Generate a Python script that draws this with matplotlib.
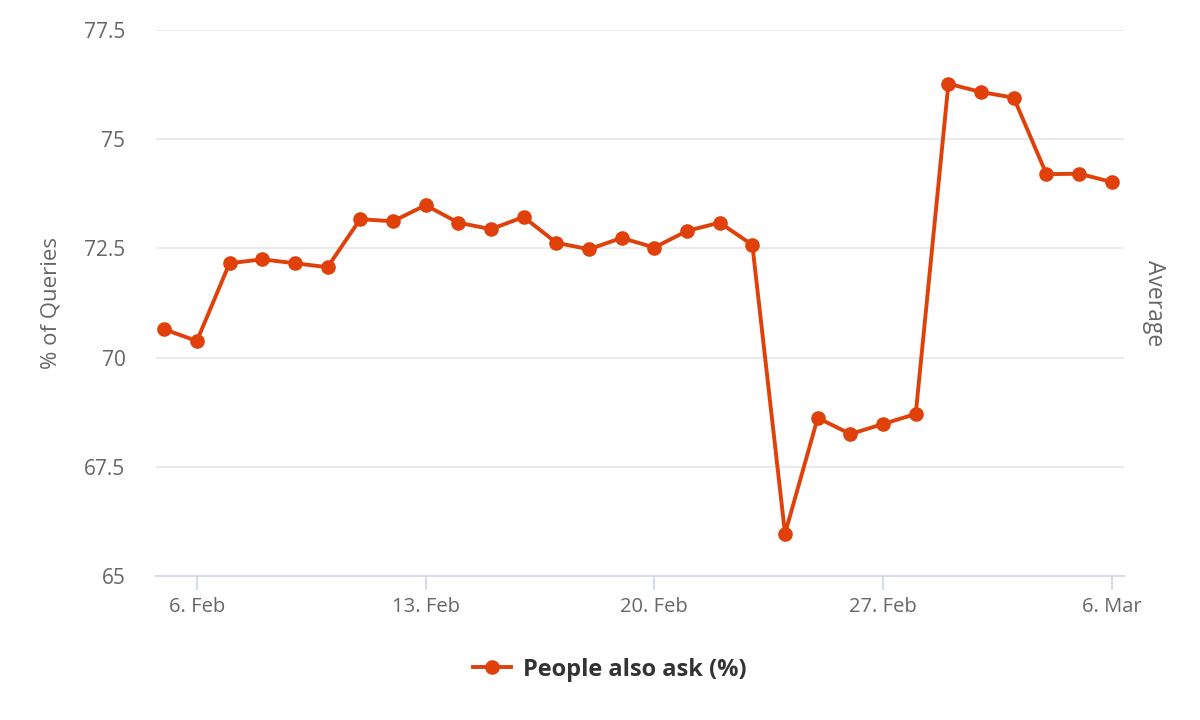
import pandas as pd
import matplotlib
matplotlib.use('Agg')
import matplotlib.pyplot as plt

# daily share of queries showing "People also ask", 5 Feb - 6 Mar
start_date = '2023-02-05'
paa_values = [70.65, 70.38, 72.16, 72.25, 72.16, 72.07, 73.17, 73.12, 73.49, 73.09,
              72.94, 73.22, 72.63, 72.48, 72.74, 72.52, 72.90, 73.09, 72.58, 65.97,
              68.62, 68.25, 68.48, 68.71, 76.27, 76.08, 75.95, 74.20, 74.21, 74.02]
y_ticks = [65, 67.5, 70, 72.5, 75, 77.5]
y_tick_labels = ['65', '67.5', '70', '72.5', '75', '77.5']
tick_dates = ['2023-02-06', '2023-02-13', '2023-02-20', '2023-02-27', '2023-03-06']
tick_labels = ['6. Feb', '13. Feb', '20. Feb', '27. Feb', '6. Mar']

dates = pd.date_range(start_date, periods=len(paa_values), freq='D')

plt.rcParams['font.family'] = ['Open Sans', 'DejaVu Sans']
line_color = '#e0400a'
text_color = '#666666'

fig = plt.figure(figsize=(12, 7.2), dpi=100)
ax = fig.add_axes([0.13, 0.2, 0.8067, 0.7583])

ax.plot(dates, paa_values, color=line_color, linewidth=2.8, marker='o',
        markersize=9.5, label='People also ask (%)', zorder=3)

ax.set_ylim(65, 77.5)
ax.set_yticks(y_ticks)
ax.set_yticklabels(y_tick_labels)
ax.set_xlim(dates[0] - pd.Timedelta(hours=6), dates[-1] + pd.Timedelta(hours=9))
ax.set_xticks(pd.to_datetime(tick_dates))
ax.set_xticklabels(tick_labels)

ax.grid(axis='y', color='#e6e6e6', linewidth=1.2)
ax.set_axisbelow(True)
for side in ['top', 'right', 'left']:
    ax.spines[side].set_visible(False)
ax.spines['bottom'].set_color('#ccd6eb')
ax.spines['bottom'].set_linewidth(1.2)
ax.tick_params(axis='x', colors='#ccd6eb', length=10, width=1.2, labelcolor=text_color,
               labelsize=14.5, pad=5)
ax.tick_params(axis='y', length=0, labelcolor=text_color, labelsize=15, pad=22)

ax.set_ylabel('% of Queries', color=text_color, fontsize=16, labelpad=16)
fig.text(0.962, 0.5792, 'Average', rotation=270, color=text_color, fontsize=16.5,
         ha='center', va='center')

leg = fig.legend(loc='center', bbox_to_anchor=(0.508, 0.07), frameon=False,
                 prop={'weight': 'bold', 'size': 17}, handlelength=1.6, handletextpad=0.5)
for t in leg.get_texts():
    t.set_color('#333333')

fig.savefig('out.png', dpi=100)
